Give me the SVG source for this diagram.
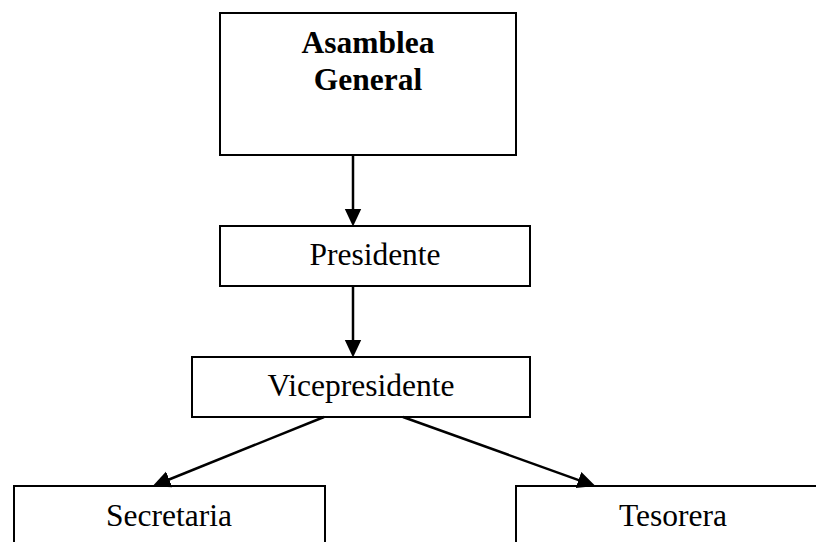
<svg xmlns="http://www.w3.org/2000/svg" width="816" height="542" viewBox="0 0 816 542">
<style>
.box{fill:#fff;stroke:#000;stroke-width:2}
.lbl{font-family:"Liberation Serif","Times New Roman",serif;font-size:31.5px;fill:#000;text-anchor:middle}
.bold{font-weight:bold}
.conn{stroke:#000;stroke-width:2.5;fill:none}
</style>
<defs>
<marker id="arr" markerUnits="userSpaceOnUse" markerWidth="18" markerHeight="18" viewBox="0 0 16 16" refX="12" refY="8" orient="auto">
<path d="M0,0.5 L16,8 L0,15.5 z" fill="#000"/>
</marker>
</defs>
<rect width="816" height="542" fill="#fff"/>
<g id="asamblea">
<rect class="box" x="220" y="13" width="296" height="142"/>
<text class="lbl bold" x="368" y="53">Asamblea</text>
<text class="lbl bold" x="368" y="90">General</text>
</g>
<g id="presidente">
<rect class="box" x="220" y="226" width="310" height="60"/>
<text class="lbl" x="375" y="265">Presidente</text>
</g>
<g id="vicepresidente">
<rect class="box" x="192" y="357" width="338" height="60"/>
<text class="lbl" x="361" y="396">Vicepresidente</text>
</g>
<g id="secretaria">
<rect class="box" x="14" y="486" width="311" height="80"/>
<text class="lbl" x="169" y="526">Secretaria</text>
</g>
<g id="tesorera">
<rect class="box" x="516" y="486" width="314" height="80"/>
<text class="lbl" x="673" y="526">Tesorera</text>
</g>
<g id="connectors">
<line class="conn" x1="353" y1="155" x2="353" y2="222" marker-end="url(#arr)"/>
<line class="conn" x1="353" y1="286" x2="353" y2="353" marker-end="url(#arr)"/>
<line class="conn" x1="324" y1="417" x2="156.7" y2="484.5" marker-end="url(#arr)"/>
<line class="conn" x1="403" y1="417" x2="591.2" y2="484.6" marker-end="url(#arr)"/>
</g>
</svg>
